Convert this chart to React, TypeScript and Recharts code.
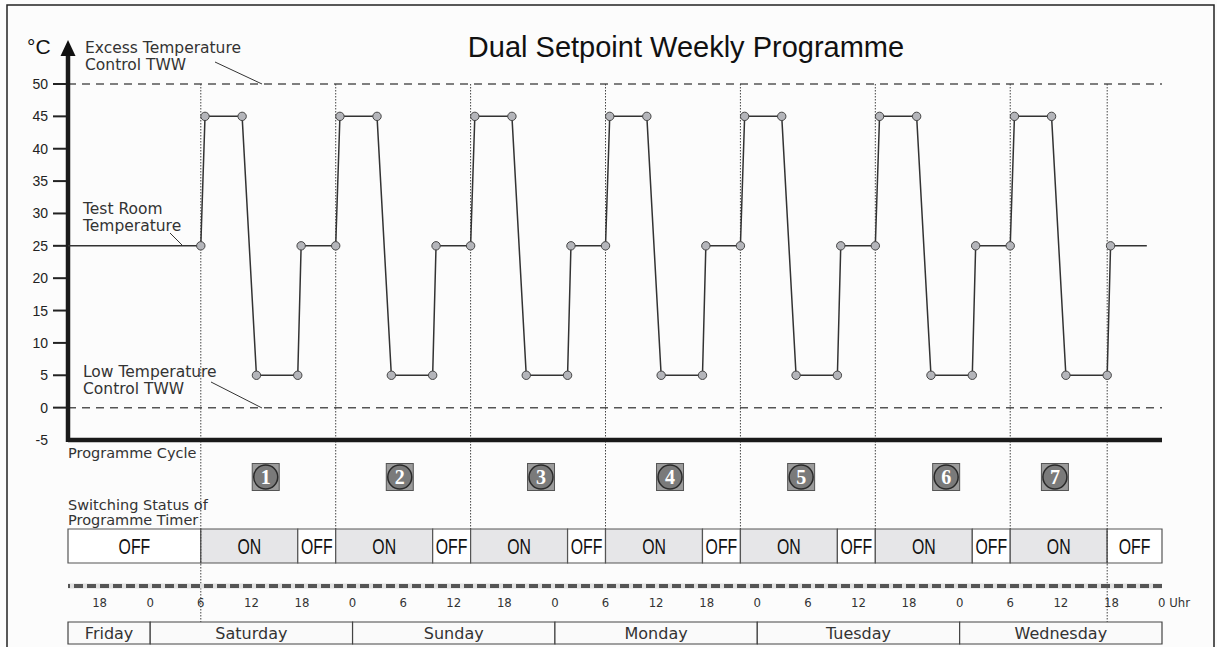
import React from "react";
import {
  ComposedChart,
  Line,
  XAxis,
  YAxis,
  ReferenceLine,
  ReferenceArea,
  ReferenceDot,
} from "recharts";

// time in hours counted from Friday 00:00
const timeHours = [
  14.25,
  30, 30.5, 34.9, 36.6, 41.5, 41.9,
  46, 46.5, 50.9, 52.6, 57.5, 57.9,
  62, 62.5, 66.9, 68.6, 73.5, 73.9,
  78, 78.5, 82.9, 84.6, 89.5, 89.9,
  94, 94.5, 98.9, 100.6, 105.5, 105.9,
  110, 110.5, 114.9, 116.6, 121.5, 121.9,
  126, 126.5, 130.9, 132.6, 137.5, 137.9,
  142.2,
];
const temperatures = [
  25,
  25, 45, 45, 5, 5, 25,
  25, 45, 45, 5, 5, 25,
  25, 45, 45, 5, 5, 25,
  25, 45, 45, 5, 5, 25,
  25, 45, 45, 5, 5, 25,
  25, 45, 45, 5, 5, 25,
  25, 45, 45, 5, 5, 25,
  25,
];

const tempTicks = [-5, 0, 5, 10, 15, 20, 25, 30, 35, 40, 45, 50];
const hourTicks = [18, 24, 30, 36, 42, 48, 54, 60, 66, 72, 78, 84, 90, 96, 102, 108, 114, 120, 126, 132, 138, 144];

const cycleStarts = [30, 46, 62, 78, 94, 110, 126];
const programmeEnd = 137.5;
const cycleBadgeHours = [37.7, 53.6, 70.35, 85.65, 101.2, 118.4, 131.3];

const switchEdges = [14.25, 30, 41.5, 46, 57.5, 62, 73.5, 78, 89.5, 94, 105.5, 110, 121.5, 126, 137.5, 144];
const switchStates = ["OFF", "ON", "OFF", "ON", "OFF", "ON", "OFF", "ON", "OFF", "ON", "OFF", "ON", "OFF", "ON", "OFF"];

const dayNames = ["Friday", "Saturday", "Sunday", "Monday", "Tuesday", "Wednesday"];
const dayEdges = [14.25, 24, 48, 72, 96, 120, 144];

const excessLimit = 50;
const lowLimit = 0;

// layout (pixels)
const W = 1217;
const H = 647;
const PLOT_TOP = 20;
const PLOT_BOTTOM = 586;
const Y50 = 84;
const YM5 = 440;
const PX_PER_DEG = (YM5 - Y50) / 55;
const tempDomain = [
  -5 - (PLOT_BOTTOM - YM5) / PX_PER_DEG,
  50 + (Y50 - PLOT_TOP) / PX_PER_DEG,
];
const X_MIN = 14.25;
const X_MAX = 144;

const tableData = timeHours.map((h, i) => ({ hour: h, temp: temperatures[i] }));

const narrow = "'Liberation Sans Narrow', 'DejaVu Sans Condensed', 'Liberation Sans', sans-serif";
const gothic = "'DejaVu Sans', 'Open Sans', sans-serif";
const arial = "'Liberation Sans', Arial, sans-serif";

const TempTick = ({ x, y, payload }: any) => (
  <g>
    {payload.value !== -5 && (
      <line x1={x - 15} x2={x - 2} y1={y} y2={y} stroke="#222" strokeWidth={2} />
    )}
    <text x={x - 20} y={y} dy={5} textAnchor="end" fontSize={14} fontFamily={arial} fill="#222">
      {payload.value}
    </text>
  </g>
);

const HourTick = ({ x, y, payload }: any) => {
  const v = payload.value;
  const last = v === X_MAX;
  return (
    <text
      x={last ? x - 4 : x}
      y={y}
      dy={13}
      textAnchor={last ? "start" : "middle"}
      fontSize={13}
      fontFamily={narrow}
      fill="#333"
    >
      {last ? "0 Uhr" : String(v % 24)}
    </text>
  );
};

const SwitchLabel = ({ viewBox, value }: any) => {
  if (!viewBox) return null;
  const cx = viewBox.x + viewBox.width / 2;
  const cy = viewBox.y + viewBox.height / 2;
  return (
    <text
      transform={`translate(${cx},${cy + 8}) scale(0.72,1)`}
      textAnchor="middle"
      fontSize={22}
      fontFamily={arial}
      fill="#111"
    >
      {value}
    </text>
  );
};

const renderDot = (props: any) => {
  const { cx, cy, index } = props;
  if (index === 0 || index === timeHours.length - 1) return <g key={`d${index}`} />;
  return <circle key={`d${index}`} cx={cx} cy={cy} r={4.2} fill="#b4b5ba" stroke="#444" strokeWidth={1} />;
};

const Badge = ({ cx, cy, n }: any) => (
  <g>
    <rect x={cx - 13.5} y={cy - 13.5} width={27} height={27} fill="#9b9b9b" stroke="#555" strokeWidth={1} />
    <circle cx={cx} cy={cy} r={12} fill="#7a7a7a" stroke="#2a2a2a" strokeWidth={1.5} />
    <text x={cx} y={cy + 7} textAnchor="middle" fontSize={20} fontWeight="bold" fontFamily="'Liberation Serif', serif" fill="#fff">
      {n}
    </text>
  </g>
);

const Arrow = ({ cx, cy }: any) => (
  <polygon points={`${cx},${cy} ${cx - 7.5},${cy + 16} ${cx + 7.5},${cy + 16}`} fill="#111" />
);

export default function App() {
  return (
    <div style={{ position: "relative", width: W, height: H, background: "#fcfcfc" }}>
      <style>{`body{margin:0}`}</style>
      <ComposedChart
        width={W}
        height={H}
        data={tableData}
        margin={{ top: PLOT_TOP, right: 55, bottom: H - PLOT_BOTTOM - 30, left: 8 }}
        style={{ position: "absolute", left: 0, top: 0 }}
      >
        <XAxis
          type="number"
          dataKey="hour"
          domain={[X_MIN, X_MAX]}
          ticks={hourTicks}
          tick={<HourTick />}
          axisLine={false}
          tickLine={false}
          height={30}
          allowDataOverflow
        />
        <YAxis
          yAxisId="temp"
          type="number"
          domain={tempDomain}
          ticks={tempTicks}
          tick={<TempTick />}
          width={60}
          tickSize={0}
          tickMargin={0}
          axisLine={false}
          tickLine={false}
          allowDataOverflow
        />
        <YAxis yAxisId="band" orientation="right" hide type="number" domain={[PLOT_TOP, PLOT_BOTTOM]} reversed allowDataOverflow />

        {/* limit lines */}
        <ReferenceLine yAxisId="temp" y={excessLimit} stroke="#555" strokeWidth={1.5} strokeDasharray="8 6" />
        <ReferenceLine yAxisId="temp" y={lowLimit} stroke="#555" strokeWidth={1.5} strokeDasharray="8 6" />

        {/* cycle boundaries */}
        {cycleStarts.map((t, i) => (
          <ReferenceLine
            key={`c${i}`}
            yAxisId="band"
            ifOverflow="visible"
            segment={[{ x: t, y: Y50 }, { x: t, y: i === 0 ? 622 : 529 }]}
            stroke="#444"
            strokeWidth={1}
            strokeDasharray="1.5 1.5"
          />
        ))}
        <ReferenceLine
          yAxisId="band"
          ifOverflow="visible"
          segment={[{ x: programmeEnd, y: Y50 }, { x: programmeEnd, y: 622 }]}
          stroke="#444"
          strokeWidth={1}
          strokeDasharray="1.5 1.5"
        />

        {/* switching status */}
        {switchStates.map((s, i) => (
          <ReferenceArea
            key={`s${i}`}
            yAxisId="band"
            ifOverflow="visible"
            x1={switchEdges[i]}
            x2={switchEdges[i + 1]}
            y1={529}
            y2={563}
            fill={s === "ON" ? "#e6e6e8" : "#ffffff"}
            fillOpacity={1}
            stroke="#555"
            strokeWidth={1.2}
            label={<SwitchLabel value={s} />}
          />
        ))}

        {/* time strip */}
        <ReferenceLine yAxisId="band" y={586} stroke="#e0e0e0" strokeWidth={5} ifOverflow="visible" />
        <ReferenceLine yAxisId="band" y={586} stroke="#555" strokeWidth={4} strokeDasharray="9 4" ifOverflow="visible" />

        {/* days */}
        {dayNames.map((d, i) => (
          <ReferenceArea
            key={`w${i}`}
            yAxisId="band"
            ifOverflow="visible"
            x1={dayEdges[i]}
            x2={dayEdges[i + 1]}
            y1={622}
            y2={644}
            fill="#fafafa"
            fillOpacity={1}
            stroke="#444"
            strokeWidth={1.2}
            label={{ value: d, position: "center", fontSize: 16, fill: "#333", fontFamily: gothic }}
          />
        ))}

        {/* programme cycle badges */}
        {cycleBadgeHours.map((t, i) => (
          <ReferenceDot
            key={`b${i}`}
            yAxisId="band"
            ifOverflow="visible"
            x={t}
            y={477}
            shape={(p: any) => <Badge {...p} n={i + 1} />}
          />
        ))}

        {/* axes */}
        <ReferenceLine
          yAxisId="temp"
          ifOverflow="visible"
          segment={[{ x: X_MIN, y: -5.3 }, { x: X_MIN, y: 55.5 }]}
          stroke="#1a1a1a"
          strokeWidth={4.5}
        />
        <ReferenceLine
          yAxisId="temp"
          ifOverflow="visible"
          segment={[{ x: X_MIN, y: -5 }, { x: X_MAX, y: -5 }]}
          stroke="#1a1a1a"
          strokeWidth={4.5}
        />
        <ReferenceDot yAxisId="temp" ifOverflow="visible" x={X_MIN} y={56.8} shape={<Arrow />} />

        <Line
          yAxisId="temp"
          type="linear"
          dataKey="temp"
          stroke="#333"
          strokeWidth={1.5}
          dot={renderDot}
          activeDot={false}
          isAnimationActive={false}
        />
      </ComposedChart>

      <svg width={W} height={H} style={{ position: "absolute", left: 0, top: 0, pointerEvents: "none" }}>
        <rect x={7} y={5} width={1207} height={700} fill="none" stroke="#222" strokeWidth={1.5} />
        <text x={686} y={57} textAnchor="middle" fontSize={29} fontFamily={arial} fill="#111">
          Dual Setpoint Weekly Programme
        </text>
        <text x={27} y={54} fontSize={21} fontFamily={arial} fill="#111">°C</text>

        <g fontFamily={gothic} fontSize={15.5} fill="#333">
          <text x={85} y={53}>Excess Temperature</text>
          <text x={85} y={70}>Control TWW</text>
          <text x={83} y={214}>Test Room</text>
          <text x={83} y={231}>Temperature</text>
          <text x={83} y={377}>Low Temperature</text>
          <text x={83} y={394}>Control TWW</text>
          <text x={68} y={458} fontSize={14.5}>Programme Cycle</text>
          <text x={68} y={510} fontSize={14.5}>Switching Status of</text>
          <text x={68} y={525} fontSize={14.5}>Programme Timer</text>
        </g>
        <g stroke="#333" strokeWidth={1}>
          <line x1={215} y1={62} x2={262} y2={84} />
          <line x1={170} y1={233} x2={183} y2={246} />
          <line x1={211} y1={382} x2={262} y2={408} />
        </g>
      </svg>
    </div>
  );
}
